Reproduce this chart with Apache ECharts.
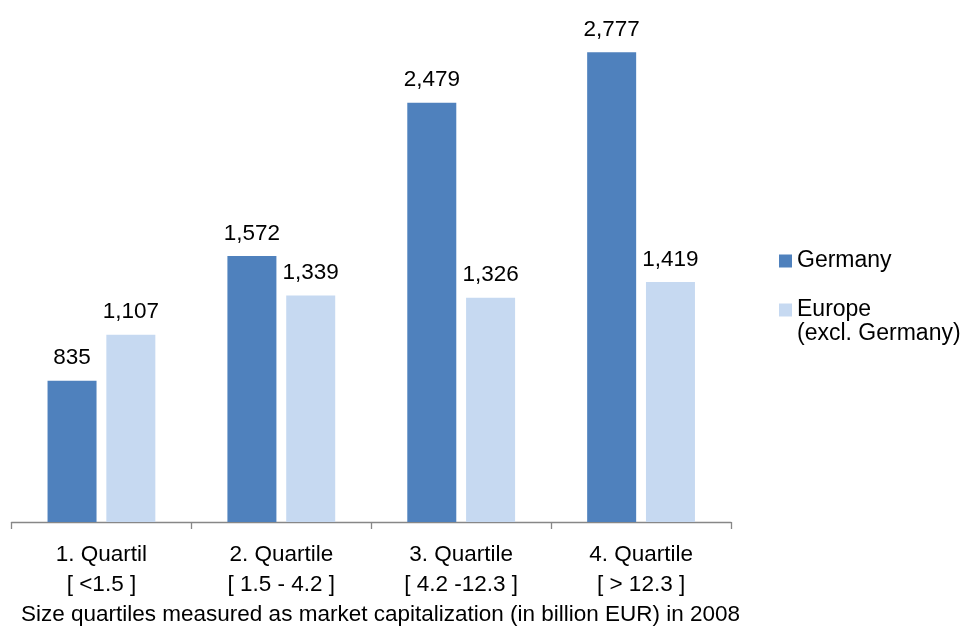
<!DOCTYPE html>
<html>
<head>
<meta charset="utf-8">
<script src="https://cdn.jsdelivr.net/npm/echarts@6/dist/echarts.min.js"></script>
<style>
  html, body { margin: 0; padding: 0; background: #ffffff; }
  #chart { width: 966px; height: 626px; }
</style>
</head>
<body>
<div id="chart"></div>
<script>
// Size quartiles (market capitalization, billion EUR, 2008)
const categories = [
  '1. Quartil\n[ <1.5 ]',
  '2. Quartile\n[ 1.5 - 4.2 ]',
  '3. Quartile\n[ 4.2 -12.3 ]',
  '4. Quartile\n[ > 12.3 ]'
];
const germany = [835, 1572, 2479, 2777];
const europe = [1107, 1339, 1326, 1419];
const seriesNames = ['Germany', 'Europe'];
const legendSubLine = '(excl. Germany)';
const footnote = 'Size quartiles measured as market capitalization (in billion EUR) in 2008';

const FONT = '"Liberation Sans", Arial, sans-serif';
const fmt = v => Number(v).toLocaleString('en-US');

const chart = echarts.init(document.getElementById('chart'), null, { renderer: 'canvas' });

const valueLabel = {
  show: true,
  position: 'top',
  distance: 11,
  color: '#000000',
  fontFamily: FONT,
  fontSize: 22.5,
  formatter: p => fmt(p.value)
};

chart.setOption({
  animation: false,
  backgroundColor: '#ffffff',
  grid: { left: 11.5, right: 235, top: 14.5, bottom: 104, containLabel: false },
  xAxis: {
    type: 'category',
    data: categories,
    axisLine: { show: true, lineStyle: { color: '#878787', width: 1.3 } },
    axisTick: { show: true, length: 7, lineStyle: { color: '#878787', width: 1.3 } },
    axisLabel: {
      margin: 18,
      color: '#000000',
      fontFamily: FONT,
      fontSize: 22.5,
      lineHeight: 30,
      align: 'center'
    }
  },
  yAxis: {
    type: 'value',
    min: 0,
    max: 3000,
    show: false,
    splitLine: { show: false }
  },
  legend: {
    orient: 'vertical',
    left: 779,
    top: 248,
    padding: 0,
    itemWidth: 13,
    itemHeight: 13,
    itemGap: 23,
    icon: 'rect',
    data: seriesNames,
    textStyle: { color: '#000000', fontFamily: FONT, fontSize: 23, lineHeight: 26 }
  },
  graphic: [{
    type: 'text',
    left: 797,
    top: 322,
    style: { text: legendSubLine, fill: '#000000', font: '23px ' + FONT }
  }],
  title: {
    text: footnote,
    left: 21,
    top: 603,
    padding: 0,
    textStyle: { color: '#000000', fontFamily: FONT, fontSize: 22.5, fontWeight: 'normal' }
  },
  series: [
    {
      name: seriesNames[0],
      type: 'bar',
      data: germany,
      barWidth: 49,
      barGap: '20%',
      itemStyle: { color: '#4F81BD' },
      label: valueLabel
    },
    {
      name: seriesNames[1],
      type: 'bar',
      data: europe,
      barWidth: 49,
      barGap: '20%',
      itemStyle: { color: '#C6D9F1' },
      label: valueLabel
    }
  ]
});
</script>
</body>
</html>
